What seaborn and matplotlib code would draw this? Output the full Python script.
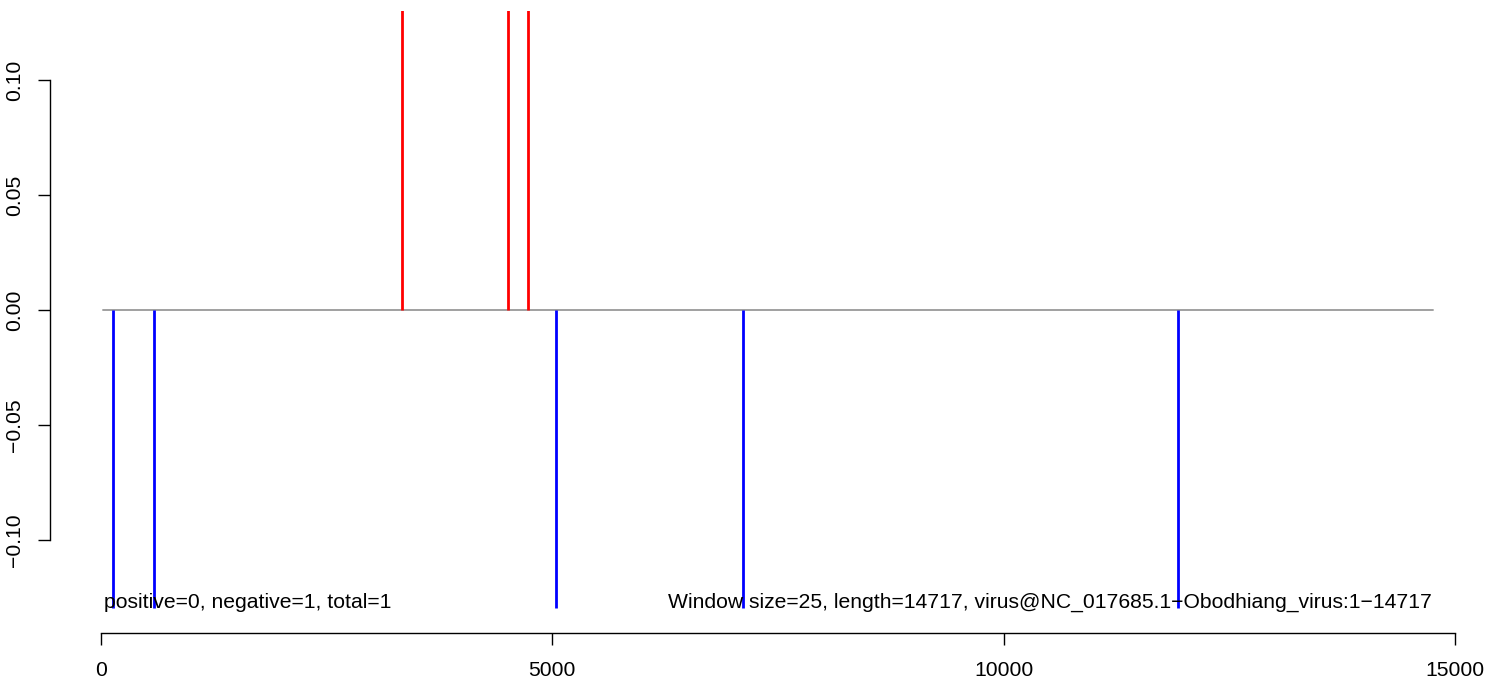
import matplotlib
matplotlib.use("Agg")
import matplotlib.pyplot as plt
import seaborn as sns
import numpy as np

# Data
pos_x = [3338, 4512, 4734]
pos_y = [0.15, 0.15, 0.15]
neg_x = [136, 590, 5044, 7116, 11936]
neg_y = [-0.1296, -0.1296, -0.1296, -0.1296, -0.1296]
baseline_x = [25, 14752]
xticks = [0, 5000, 10000, 15000]
yticks = [-0.10, -0.05, 0.00, 0.05, 0.10]
ytick_labels = ["\u22120.10", "\u22120.05", "0.00", "0.05", "0.10"]
left_text = "positive=0, negative=1, total=1"
right_text = "Window size=25, length=14717, virus@NC_017685.1\u2212Obodhiang_virus:1\u221214717"
seq_start = 30
seq_length = 14740

sns.set_theme(style="ticks")
plt.rcParams['font.family'] = ['Liberation Sans', 'DejaVu Sans']

W, H = 1490, 683
fig = plt.figure(figsize=(W / 100, H / 100), dpi=100)
left, right, top, bottom = 50, 1481, 11, 632.7
ax = fig.add_axes([left / W, (H - bottom) / H, (right - left) / W, (bottom - top) / H])

px_per_unit = (552.3 - 101) / 5000
ax.set_xlim((left - 101) / px_per_unit, (right - 101) / px_per_unit)
yscale = 2300.0
ax.set_ylim(-(bottom - 310) / yscale, (310 - top) / yscale)

ax.plot(baseline_x, [0, 0], color="#a0a0a0", lw=1.4, zorder=1)
ax.vlines(pos_x, 0, pos_y, color="#ff0000", lw=2.0, zorder=2)
ax.vlines(neg_x, 0, neg_y, color="#0000ff", lw=2.0, zorder=2)

ax.text(seq_start, -0.127, left_text, ha="left", va="center", fontsize=15.2, color="black", zorder=3)
ax.text(seq_length, -0.127, right_text, ha="right", va="center", fontsize=15.2, color="black", zorder=3)

for s in ["top", "right"]:
    ax.spines[s].set_visible(False)
ax.spines["left"].set_bounds(-0.10, 0.10)
ax.spines["bottom"].set_bounds(0, 15000)
for s in ["left", "bottom"]:
    ax.spines[s].set_linewidth(1.0)
    ax.spines[s].set_color("black")

ax.set_xticks(xticks)
ax.set_xticklabels([str(t) for t in xticks])
ax.set_yticks(yticks)
ax.set_yticklabels(ytick_labels, rotation=90, va="center")
ax.tick_params(axis="both", direction="out", length=8.6, width=1.0, color="black",
               labelsize=15.2, labelcolor="black")
ax.tick_params(axis="x", pad=12)
ax.tick_params(axis="y", pad=10)
ax.grid(False)
ax.set_facecolor("white")
fig.patch.set_facecolor("white")

fig.savefig("out.png", dpi=100)
